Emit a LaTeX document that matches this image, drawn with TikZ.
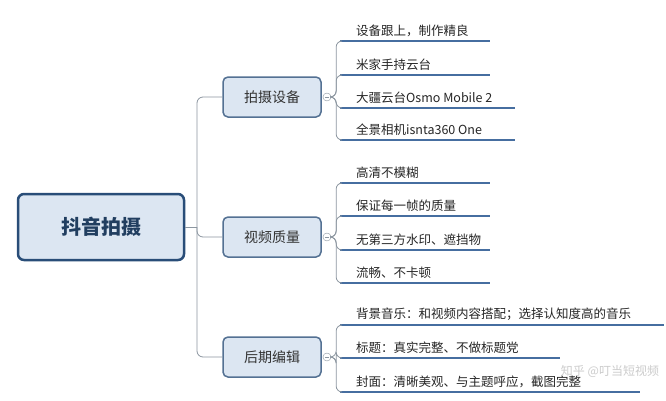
\documentclass[tikz,border=0pt]{standalone}
\usepackage{fontspec}
\setmainfont{Noto Sans CJK SC}
\usetikzlibrary{positioning}
\definecolor{edgeblue}{RGB}{41,77,120}
\definecolor{fillblue}{RGB}{220,230,242}
\definecolor{linkgray}{RGB}{140,150,160}
\definecolor{barblue}{RGB}{70,110,160}
\tikzset{
  root/.style={draw=edgeblue, line width=2.5pt, fill=fillblue, rounded corners=6pt,
    minimum width=166pt, minimum height=66pt, font=\fontsize{20}{24}\selectfont\bfseries, text=edgeblue!80!black},
  topic/.style={draw=edgeblue!80, line width=1.5pt, fill=fillblue, rounded corners=5pt,
    minimum width=98pt, minimum height=40pt, font=\fontsize{14}{17}\selectfont, text=black!80},
  leaf/.style={anchor=south west, inner sep=1pt, font=\fontsize{12.5}{14}\selectfont, text=black!85},
  link/.style={draw=linkgray, line width=0.8pt, rounded corners=6pt},
  bar/.style={draw=barblue, line width=2.5pt},
  knob/.style={circle, draw=linkgray, fill=white, minimum size=8pt, inner sep=0pt}
}
\begin{document}
\begin{tikzpicture}[x=1pt,y=-1pt]
  \fill[white] (0,0) rectangle (666,400);
  % Nodes
  \node[root] (root) at (101,227) {抖音拍摄};
  \node[topic] (t1) at (272,97) {拍摄设备};
  \node[topic] (t2) at (272,237) {视频质量};
  \node[topic] (t3) at (272,357) {后期编辑};
  \foreach \i in {1,2,3} {
    \node[knob, right=1pt of t\i] (k\i) {};
    \draw[linkgray, line width=0.6pt] ([xshift=-2pt]k\i.center) -- ([xshift=2pt]k\i.center);
  }
  % Root links
  \coordinate (rj) at (197,227);
  \draw[link] (root.east) -- (rj);
  \draw[link] (t1.west) -| (rj) |- (t3.west);
  \draw[link] (rj) |- (t2.west);
  % Leaves
  \foreach \k/\y/\e/\txt in {
      1/41/490/{设备跟上，制作精良},
      1/75/490/{米家手持云台},
      1/108/515/{大疆云台Osmo Mobile 2},
      1/140/515/{全景相机isnta360 One},
      2/183/490/{高清不模糊},
      2/216/490/{保证每一帧的质量},
      2/250/490/{无第三方水印、遮挡物},
      2/283/490/{流畅、不卡顿},
      3/325/664/{背景音乐：和视频内容搭配；选择认知度高的音乐},
      3/358/560/{标题：真实完整、不做标题党},
      3/392/640/{封面：清晰美观、与主题呼应，截图完整}} {
    \node[leaf] (l\y) at (355,\y-3) {\txt};
    \coordinate (s\y) at (340,\y);
    \coordinate (u\y) at (\e,\y);
    \draw[bar] (s\y) -- (u\y);
    \draw[link] (k\k.east) -- ++(5,0) |- (s\y);
  }
  \node[text=gray!40, font=\fontsize{12}{14}\selectfont] (wm) at (610,371) {知乎 @叮当短视频};
\end{tikzpicture}
\end{document}
